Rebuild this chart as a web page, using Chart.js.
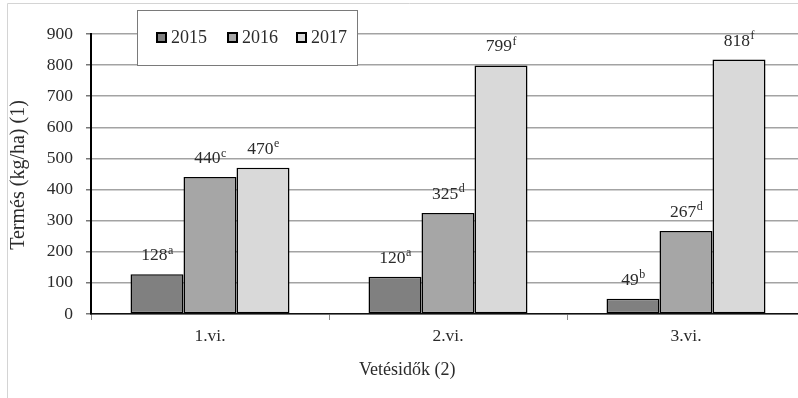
<!DOCTYPE html>
<html>
<head>
<meta charset="utf-8">
<script src="https://cdn.jsdelivr.net/npm/chart.js@4/dist/chart.umd.min.js"></script>
<style>
  html, body { margin: 0; padding: 0; background: #fff; overflow: hidden; }
  #wrap { width: 798px; height: 398px; overflow: hidden; }
  canvas { display: block; }
</style>
</head>
<body>
<div id="wrap"><canvas id="chart" width="812" height="398"></canvas></div>
<script>
// Sowing dates and yearly yields (kg/ha)
const categories = ['1.vi.', '2.vi.', '3.vi.'];
const years = ['2015', '2016', '2017'];
const values2015 = [128, 120, 49];
const values2016 = [440, 325, 267];
const values2017 = [470, 799, 818];
// Significance letters shown next to each value
const letters2015 = ['a', 'a', 'b'];
const letters2016 = ['c', 'd', 'd'];
const letters2017 = ['e', 'f', 'f'];
const yMin = 0, yMax = 900, yStep = 100;

const yTitle = 'Termés (kg/ha) (1)';
const xTitle = 'Vetésidők (2)';

const FONT = '"Liberation Serif", "Times New Roman", serif';
const TEXT = '#2b2b2b';
const fills = ['#808080', '#a6a6a6', '#d9d9d9'];
const seriesValues = [values2015, values2016, values2017];
const seriesLetters = [letters2015, letters2016, letters2017];

const datasets = years.map((y, i) => ({
  label: y,
  data: seriesValues[i],
  letters: seriesLetters[i],
  backgroundColor: fills[i],
  borderColor: '#000',
  borderWidth: 1.5,
  borderSkipped: false,
  barPercentage: 1,
  categoryPercentage: 0.668
}));

// Light frame around the whole chart
const framePlugin = {
  id: 'frame',
  beforeDraw(chart) {
    const c = chart.ctx;
    c.save();
    c.strokeStyle = '#d4d4d4';
    c.lineWidth = 1;
    c.beginPath();
    c.moveTo(7.5, chart.height);
    c.lineTo(7.5, 3.5);
    c.lineTo(chart.width, 3.5);
    c.stroke();
    c.restore();
  }
};

// Value labels with superscript letters above each bar
const valueLabels = {
  id: 'valueLabels',
  afterDatasetsDraw(chart) {
    const c = chart.ctx;
    c.save();
    c.fillStyle = TEXT;
    c.textBaseline = 'alphabetic';
    c.textAlign = 'left';
    chart.data.datasets.forEach((ds, di) => {
      const meta = chart.getDatasetMeta(di);
      meta.data.forEach((el, i) => {
        const num = String(ds.data[i]);
        const sup = ds.letters[i];
        c.font = '17.5px ' + FONT;
        const wn = c.measureText(num).width;
        c.font = '12px ' + FONT;
        const ws = c.measureText(sup).width;
        const x0 = el.x - (wn + ws) / 2;
        const cy = el.y - 20;
        c.font = '17.5px ' + FONT;
        c.fillText(num, x0, cy + 6);
        c.font = '12px ' + FONT;
        c.fillText(sup, x0 + wn + 0.5, cy - 0.5);
      });
    });
    c.restore();
  }
};

// Axis titles and the boxed legend
const overlay = {
  id: 'overlay',
  afterDraw(chart) {
    const c = chart.ctx;
    const a = chart.chartArea;
    c.save();
    c.fillStyle = TEXT;
    c.textAlign = 'center';
    c.textBaseline = 'middle';
    // y title
    c.save();
    c.font = '20px ' + FONT;
    c.translate(19, 175);
    c.rotate(-Math.PI / 2);
    c.fillText(yTitle, 0, 0);
    c.restore();
    // x title
    c.font = '18px ' + FONT;
    c.fillText(xTitle, a.left + (a.right - a.left) * 0.443, 370);

    // legend box
    const bx = 137.5, by = 10.5, bw = 220, bh = 55;
    c.fillStyle = '#fff';
    c.fillRect(bx, by, bw, bh);
    c.strokeStyle = '#7a7a7a';
    c.lineWidth = 1;
    c.strokeRect(bx, by, bw, bh);
    const starts = [156, 227, 296];
    c.font = '18px ' + FONT;
    c.textAlign = 'left';
    c.textBaseline = 'alphabetic';
    chart.data.datasets.forEach((ds, i) => {
      const mx = starts[i];
      c.fillStyle = ds.backgroundColor;
      c.fillRect(mx + 1, 33, 9, 9);
      c.strokeStyle = '#000';
      c.lineWidth = 2;
      c.strokeRect(mx + 1, 33, 9, 9);
      c.fillStyle = TEXT;
      c.fillText(ds.label, mx + 15, 43);
    });
    c.restore();
  }
};

new Chart(document.getElementById('chart'), {
  type: 'bar',
  data: { labels: categories, datasets },
  plugins: [framePlugin, valueLabels, overlay],
  options: {
    responsive: false,
    devicePixelRatio: 1,
    animation: false,
    layout: { padding: { top: 34, right: 7, left: 0, bottom: 0 } },
    plugins: {
      legend: { display: false },
      tooltip: { enabled: false }
    },
    scales: {
      x: {
        afterFit(s) { s.height = 84; },
        grid: {
          offset: true,
          drawOnChartArea: false,
          drawTicks: true,
          tickLength: 6,
          tickColor: '#8a8a8a'
        },
        border: { display: true, color: '#111', width: 1.5 },
        ticks: {
          color: TEXT,
          padding: 6,
          font: { family: FONT, size: 17.5 }
        }
      },
      y: {
        min: yMin,
        max: yMax,
        afterFit(s) { s.width = 91; },
        grid: {
          color: '#a3a3a3',
          lineWidth: 1.5,
          drawTicks: true,
          tickLength: 5,
          tickColor: '#777'
        },
        border: { display: true, color: '#000', width: 2 },
        ticks: {
          stepSize: yStep,
          color: TEXT,
          padding: 13,
          font: { family: FONT, size: 17.5 }
        }
      }
    }
  }
});
</script>
</body>
</html>
